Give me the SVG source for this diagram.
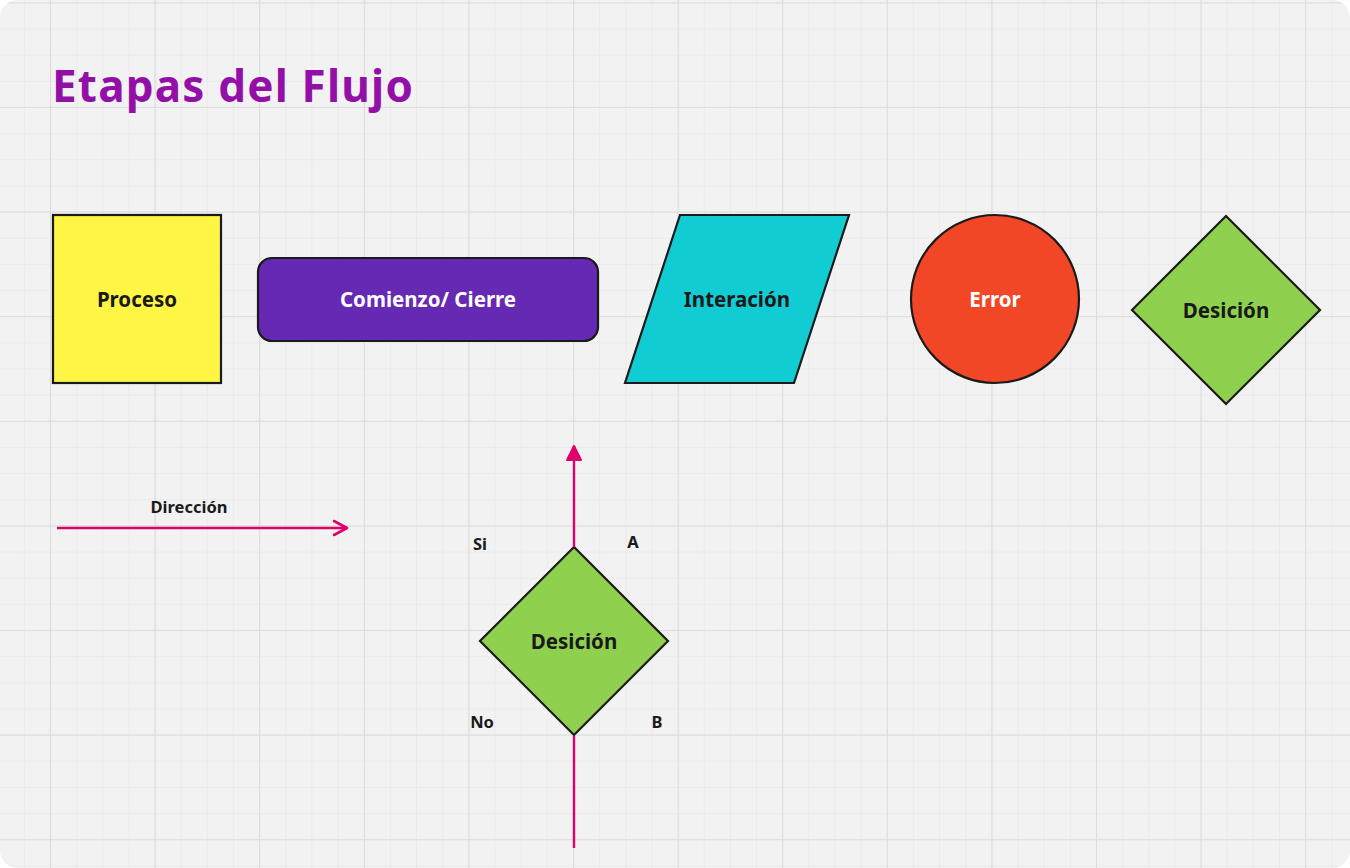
<svg xmlns="http://www.w3.org/2000/svg" width="1350" height="868" viewBox="0 0 1350 868">
<defs>
<pattern id="minor" x="23.85" y="2.4" width="26.15" height="26.15" patternUnits="userSpaceOnUse">
<path d="M0 0V26.15M0 0H26.15" fill="none" stroke="#e4e4e4" stroke-width="1"/>
</pattern>
<pattern id="major" x="50" y="107" width="104.6" height="104.6" patternUnits="userSpaceOnUse">
<path d="M0.5 0V104.6M0 0.5H104.6" fill="none" stroke="#dcdcdc" stroke-width="1.2"/>
</pattern>
<marker id="chev" viewBox="0 0 18 18" refX="16" refY="9" markerWidth="18" markerHeight="18" markerUnits="userSpaceOnUse" orient="auto">
<path d="M3 2L16 9L3 16" fill="none" stroke="#e0006b" stroke-width="2.6" stroke-linecap="round" stroke-linejoin="round"/>
</marker>
<marker id="tri" viewBox="0 0 18 18" refX="16" refY="9" markerWidth="18" markerHeight="18" markerUnits="userSpaceOnUse" orient="auto">
<path d="M2 2L16 9L2 16Z" fill="#e0006b" stroke="#e0006b" stroke-width="2" stroke-linejoin="round"/>
</marker>
<style>
.s{stroke:#1a1a1a;stroke-width:2.2}
.t{font-family:"Noto Sans","Open Sans",sans-serif;font-weight:700;font-size:20.5px;text-anchor:middle;fill:#1a1a1a}
.w{fill:#fff}
.l{font-family:"Noto Sans","Open Sans",sans-serif;font-weight:700;font-size:16.5px;text-anchor:middle;fill:#1a1a1a}
.c{stroke:#e0006b;stroke-width:2.4;fill:none}
</style>
</defs>
<rect width="1350" height="868" fill="#ffffff"/>
<rect x="0" y="0" width="1350" height="868" rx="18" fill="#f2f2f2"/>
<rect x="0" y="0" width="1350" height="868" rx="18" fill="url(#minor)"/>
<rect x="0" y="0" width="1350" height="868" rx="18" fill="url(#major)"/>
<text x="52" y="102" font-family="Noto Sans, Open Sans, sans-serif" font-weight="700" font-size="44" letter-spacing="1.2" fill="#9210a8">Etapas del Flujo</text>
<g id="proceso"><rect x="53" y="215" width="168" height="168" fill="#fef544" class="s"/><text class="t" x="137" y="307">Proceso</text></g>
<g id="comienzo"><rect x="258" y="258" width="340" height="83" rx="14" fill="#6629b4" class="s"/><text class="t w" x="428" y="307">Comienzo/ Cierre</text></g>
<g id="interaccion"><polygon points="680,215 849,215 794,383 625,383" fill="#12ccd4" class="s"/><text class="t" x="737" y="307">Interación</text></g>
<g id="error"><circle cx="995" cy="299" r="84" fill="#f24726" class="s"/><text class="t w" x="995" y="307">Error</text></g>
<g id="desicion1"><polygon points="1226,216 1320,310 1226,404 1132,310" fill="#8fd14f" class="s"/><text class="t" x="1226" y="318">Desición</text></g>
<g id="desicion2"><polygon points="574,547 668,641 574,735 480,641" fill="#8fd14f" class="s"/><text class="t" x="574" y="649">Desición</text></g>
<g id="connectors">
<line class="c" x1="57" y1="528" x2="347" y2="528" marker-end="url(#chev)"/>
<line class="c" x1="574" y1="547" x2="574" y2="446" marker-end="url(#tri)"/>
<line class="c" x1="574" y1="848" x2="574" y2="736"/>
</g>
<g id="labels">
<text class="l" x="189" y="513">Dirección</text>
<text class="l" x="480" y="550">Si</text>
<text class="l" x="633" y="548">A</text>
<text class="l" x="482" y="728">No</text>
<text class="l" x="657" y="728">B</text>
</g>
</svg>
